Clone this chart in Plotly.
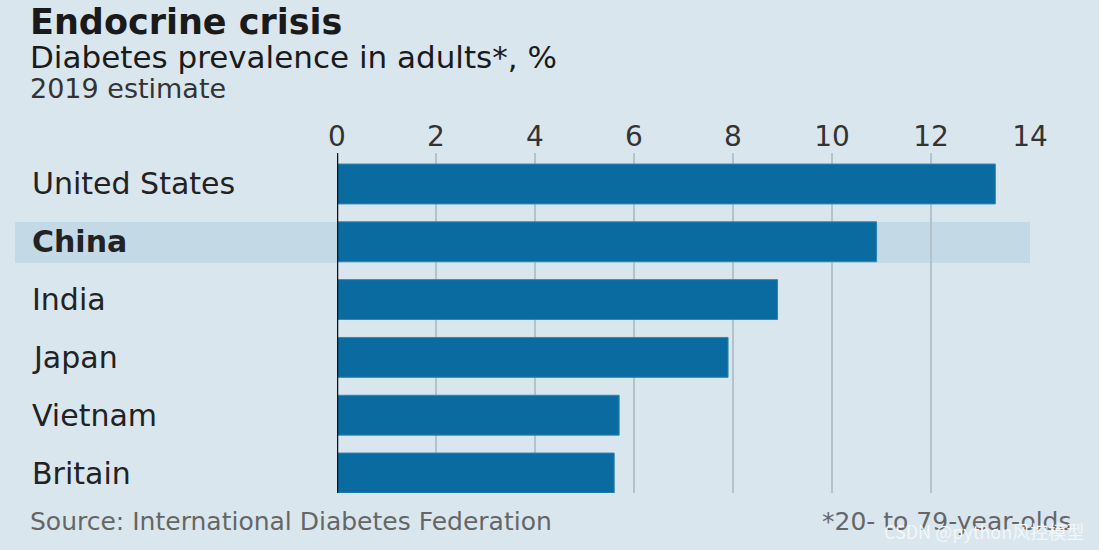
import plotly.graph_objects as go

countries = ["United States", "China", "India", "Japan", "Vietnam", "Britain"]
values = [13.3, 10.9, 8.9, 7.9, 5.7, 5.6]
tick_vals = [0, 2, 4, 6, 8, 10, 12, 14]
highlight = "China"

BG = "#d9e6ee"
BAR = "#0a6ba1"
FONT = "DejaVu Sans"

pos = list(range(len(countries)))

W, H = 1099, 550
L, R, T, B = 337, 69, 153, 57
plot_w = W - L - R
plot_h = H - T - B


def px(xp):
    return (xp - L) / plot_w


def py(yp):
    return (H - B - yp) / plot_h


fig = go.Figure()
fig.add_trace(go.Bar(
    x=values, y=pos, orientation="h", width=0.69,
    marker=dict(color=BAR, line=dict(color="#2f86b8", width=1)),
    hoverinfo="x+text", text=countries, textposition="none",
))

fig.update_layout(
    width=W, height=H,
    margin=dict(l=L, r=R, t=T, b=B),
    paper_bgcolor=BG, plot_bgcolor=BG,
    showlegend=False,
    font=dict(family=FONT, color="#222"),
)
fig.update_xaxes(
    side="top", range=[0, 14], tickvals=tick_vals,
    tickfont=dict(size=28, color="#333", family=FONT),
    showgrid=True, gridcolor="#b3c3cc", gridwidth=2,
    zeroline=False, showline=False, ticks="", ticklabelstandoff=0,
    fixedrange=True,
)
fig.update_yaxes(
    range=[5.346, -0.536], showticklabels=False, showgrid=False,
    zeroline=False, showline=False, fixedrange=True,
)

# zero line drawn on top of bars
fig.add_shape(type="line", xref="x", yref="paper", x0=0, x1=0, y0=0, y1=1,
              line=dict(color="#111", width=2.5), layer="above")

# highlight band for China (behind bars)
hi = countries.index(highlight)
fig.add_shape(type="rect", xref="paper", yref="paper",
              x0=px(15), x1=1, y0=py(263), y1=py(222),
              fillcolor="#c3d9e5", line=dict(width=0), layer="below")

# country labels
for i, c in enumerate(countries):
    fig.add_annotation(
        x=px(30), xref="paper", y=i, yref="y",
        text=f"<b>{c}</b>" if c == highlight else c,
        showarrow=False, xanchor="left", yanchor="middle",
        font=dict(size=30, color="#222", family=FONT),
    )


def note(text, x, y, size, color, anchor="left", family=FONT):
    fig.add_annotation(x=px(x), y=py(y), xref="paper", yref="paper",
                       xanchor=anchor, yanchor="middle", showarrow=False,
                       text=text, font=dict(size=size, color=color, family=family))


note("<b>Endocrine crisis</b>", 28, 22, 35, "#1a1a1a")
note("Diabetes prevalence in adults*, %", 28, 57, 31, "#1a1a1a")
note("2019 estimate", 28, 88, 27, "#333")
note("Source: International Diabetes Federation", 28, 521, 25, "#666")
note("*20- to 79-year-olds", 1074, 521, 25, "#666", anchor="right")
note("CSDN @python风控模型", 1086, 531, 18, "#f2f6f9", anchor="right",
     family="Noto Sans CJK SC")

fig.write_html("out.html", config={"displayModeBar": False},
               post_script="document.body.style.margin='0';")
